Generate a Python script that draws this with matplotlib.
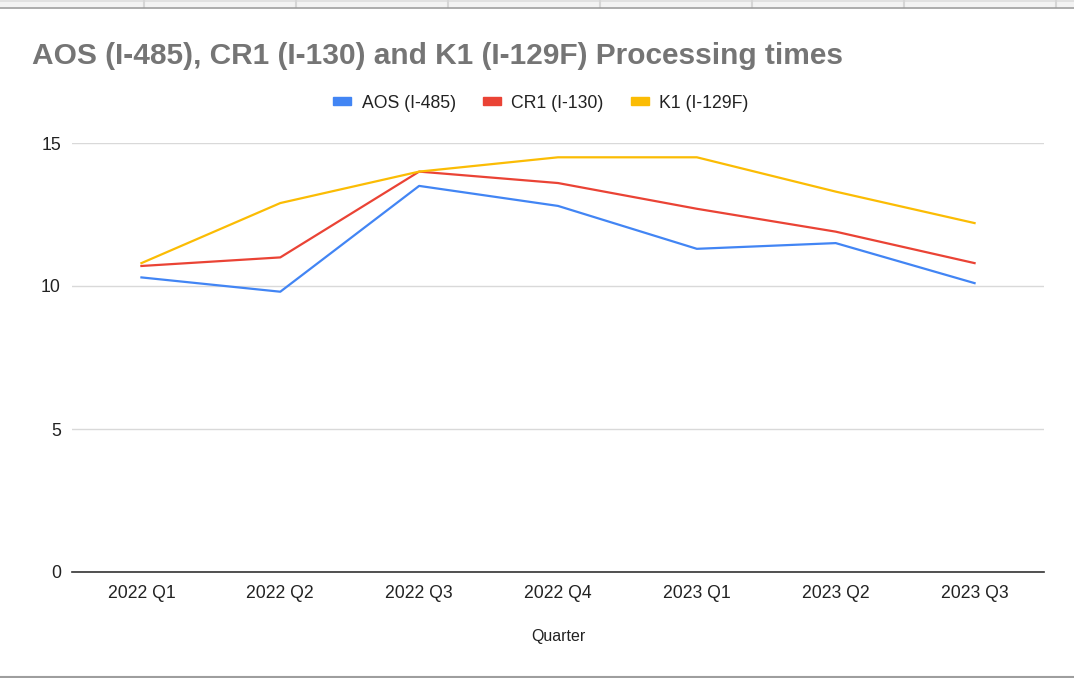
import matplotlib.pyplot as plt
from matplotlib.lines import Line2D
from matplotlib.patches import Rectangle

plt.rcParams["font.family"] = ["Liberation Sans", "DejaVu Sans"]

quarters = ["2022 Q1", "2022 Q2", "2022 Q3", "2022 Q4", "2023 Q1", "2023 Q2", "2023 Q3"]
aos = [10.3, 9.8, 13.5, 12.8, 11.3, 11.5, 10.1]
cr1 = [10.7, 11.0, 14.0, 13.6, 12.7, 11.9, 10.8]
k1 = [10.8, 12.9, 14.0, 14.5, 14.5, 13.3, 12.2]

series_names = ["AOS (I-485)", "CR1 (I-130)", "K1 (I-129F)"]
colors = ["#4285f4", "#ea4335", "#fbbc04"]

W, H = 1074, 678
fig = plt.figure(figsize=(W / 100, H / 100), dpi=100)
ax = fig.add_axes([72 / W, 1 - 572 / H, (1044 - 72) / W, (572 - 143) / H])

x = range(len(quarters))
for vals, name, c in zip([aos, cr1, k1], series_names, colors):
    ax.plot(x, vals, color=c, lw=1.6, label=name, solid_joinstyle="round")

ax.set_xlim(-0.5, len(quarters) - 0.5)
ax.set_ylim(0, 15)
ax.set_yticks([0, 5, 10, 15])
ax.set_xticks(list(x))
ax.set_xticklabels(quarters)
ax.tick_params(axis="both", length=0, labelsize=12.7, colors="#222222")
ax.tick_params(axis="x", pad=9)
ax.tick_params(axis="y", pad=8)
ax.grid(axis="y", color="#d9d9d9", lw=1)
ax.set_axisbelow(True)
for s in ["top", "right", "left"]:
    ax.spines[s].set_visible(False)
ax.spines["bottom"].set_color("#333333")
ax.spines["bottom"].set_linewidth(1.2)
ax.set_xlabel("Quarter", fontsize=11.5, color="#222222", labelpad=20)

fig.text(32 / W, 1 - 64 / H, "AOS (I-485), CR1 (I-130) and K1 (I-129F) Processing times",
         fontsize=21.5, fontweight="bold", color="#757575", ha="left", va="baseline")

handles = [Rectangle((0, 0), 1, 1, color=c) for c in colors]
fig.legend(handles, series_names, loc="center", bbox_to_anchor=(541 / W, 1 - 103 / H),
           ncol=3, frameon=False, fontsize=12.7, handlelength=1.0, handleheight=0.3,
           handletextpad=0.6, columnspacing=1.55, labelcolor="#222222")

# spreadsheet frame around the chart
fig.add_artist(Rectangle((0, 1 - 7 / H), 1, 7 / H, transform=fig.transFigure,
                         color="#f3f3f3", lw=0))
fig.add_artist(Rectangle((0, 1 - 2 / H), 1, 2 / H, transform=fig.transFigure,
                         color="#e1e1e1", lw=0))
for cx in [144, 296, 448, 600, 752, 904, 1056]:
    fig.add_artist(Line2D([cx / W, cx / W], [1 - 7 / H, 1], transform=fig.transFigure,
                          color="#d6d6d6", lw=1.5))
fig.add_artist(Line2D([0, 1], [1 - 8 / H, 1 - 8 / H], transform=fig.transFigure,
                      color="#9e9e9e", lw=1.2))
fig.add_artist(Line2D([0, 1], [1 - 677 / H, 1 - 677 / H], transform=fig.transFigure,
                      color="#9e9e9e", lw=1.5))

fig.savefig("out.png", dpi=100)
